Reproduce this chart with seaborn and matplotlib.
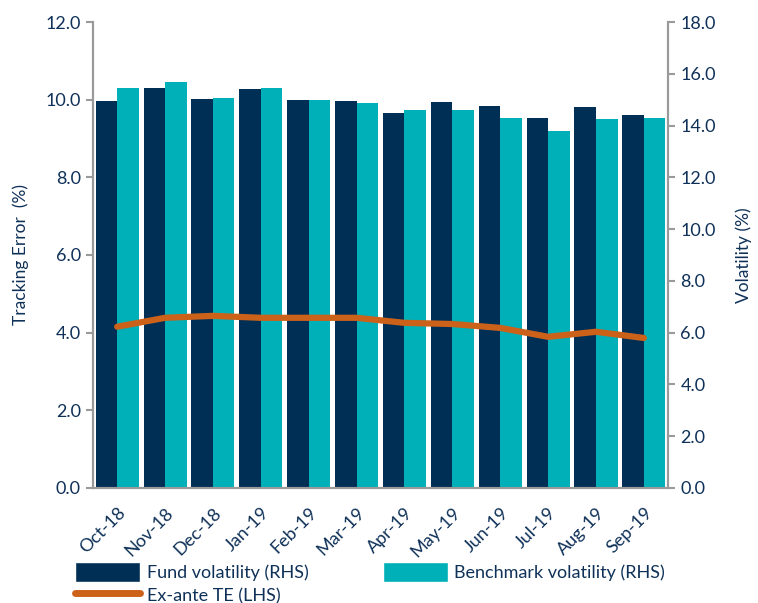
import numpy as np
import pandas as pd
import matplotlib
matplotlib.use("Agg")
import matplotlib.pyplot as plt
import seaborn as sns
from matplotlib.patches import Patch
from matplotlib.lines import Line2D

months = ["Oct-18", "Nov-18", "Dec-18", "Jan-19", "Feb-19", "Mar-19",
          "Apr-19", "May-19", "Jun-19", "Jul-19", "Aug-19", "Sep-19"]
fund_vol = [14.95, 15.45, 15.03, 15.4, 15.0, 14.95, 14.5, 14.9, 14.75, 14.3, 14.7, 14.4]
bench_vol = [15.45, 15.7, 15.07, 15.45, 15.0, 14.87, 14.6, 14.6, 14.3, 13.8, 14.25, 14.3]
te = [4.15, 4.38, 4.43, 4.38, 4.38, 4.38, 4.25, 4.22, 4.12, 3.89, 4.02, 3.86]

NAVY = "#002f56"
TEAL = "#00b0b9"
ORANGE = "#cc6119"
TXT = "#0f3158"
GREY = "#9a9a9a"

sns.set_style("white")
plt.rcParams["font.family"] = ["Lato", "DejaVu Sans"]

fig = plt.figure(figsize=(7.58, 6.03), dpi=100)
ax = fig.add_axes([0.123, 0.191, 0.758, 0.7725])
ax2 = ax.twinx()

df = pd.DataFrame({
    "Month": months * 2,
    "Vol": fund_vol + bench_vol,
    "Series": ["Fund volatility (RHS)"] * 12 + ["Benchmark volatility (RHS)"] * 12,
})
sns.barplot(data=df, x="Month", y="Vol", hue="Series", order=months,
            palette=[NAVY, TEAL], width=0.9, ax=ax2, legend=False,
            saturation=1, edgecolor="none")
sns.lineplot(x=np.arange(len(months)), y=te, ax=ax, color=ORANGE, lw=4.5, legend=False)

ax.set_zorder(ax2.get_zorder() + 1)
ax.patch.set_visible(False)

ax.set_ylim(0, 12)
ax2.set_ylim(0, 18)
ax.set_xlim(-0.5, 11.5)
ax.set_yticks(np.arange(0, 12.01, 2))
ax.set_yticklabels([f"{v:.1f}" for v in np.arange(0, 12.01, 2)])
ax2.set_yticks(np.arange(0, 18.01, 2))
ax2.set_yticklabels([f"{v:.1f}" for v in np.arange(0, 18.01, 2)])

ax.set_xticks(np.arange(len(months)))
ax.set_xticklabels(months, rotation=45, ha="right", rotation_mode="anchor")
ax.set_xticks(np.arange(-0.5, 12, 1), minor=True)
ax.tick_params(axis="x", which="major", length=0, pad=12, labelsize=13, labelcolor=TXT)
ax.tick_params(axis="x", which="minor", length=6, color=GREY, width=1.5, direction="out")
ax2.set_xlabel("")
ax.set_xlabel("")

ax.tick_params(axis="y", length=5, width=1.5, color=GREY, labelsize=13, labelcolor=TXT, direction="out", left=True, pad=4)
ax2.tick_params(axis="y", length=5, width=1.5, color=GREY, labelsize=13, labelcolor=TXT, direction="out", right=True, pad=4)

for a in (ax, ax2):
    for s in a.spines.values():
        s.set_color(GREY)
        s.set_linewidth(1.5)
    a.spines["top"].set_visible(False)

ax.set_ylabel("Tracking Error  (%)", color=TXT, fontsize=12.5, labelpad=12)
ax2.set_ylabel("Volatility (%)", color=TXT, fontsize=12.5, labelpad=14)

handles = [Patch(facecolor=NAVY, label="Fund volatility (RHS)"),
           Line2D([0], [0], color=ORANGE, lw=5, label="Ex-ante TE (LHS)"),
           Patch(facecolor=TEAL, label="Benchmark volatility (RHS)")]
fig.legend(handles=handles, loc="upper left", bbox_to_anchor=(0.09, 0.08),
           ncol=2, frameon=False, fontsize=13, labelcolor=TXT,
           handlelength=3.6, handleheight=1.3, columnspacing=4.1,
           handletextpad=0.35, labelspacing=0.2, borderaxespad=0)

fig.savefig("out.png", dpi=100)
